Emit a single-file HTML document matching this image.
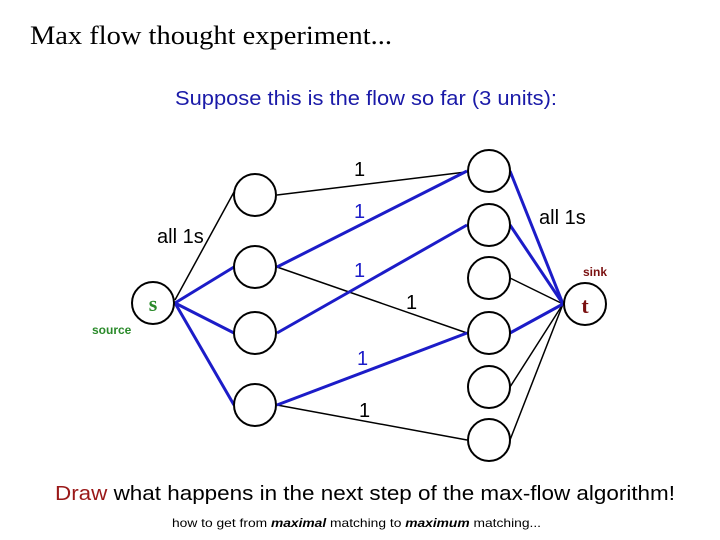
<!DOCTYPE html>
<html><head><meta charset="utf-8"><style>html,body{margin:0;padding:0;background:#fff}svg{display:block}</style></head>
<body>
<svg width="720" height="540" xmlns="http://www.w3.org/2000/svg" font-family="Liberation Sans, sans-serif">
<text x="30" y="44" font-family="Liberation Serif, serif" font-size="26" textLength="362" lengthAdjust="spacingAndGlyphs">Max flow thought experiment...</text>
<text x="175" y="105" font-size="20" fill="#1a1aa8" textLength="382" lengthAdjust="spacingAndGlyphs">Suppose this is the flow so far (3 units):</text>
<g stroke="#000" stroke-width="1.5" fill="none">
<line x1="175" y1="300" x2="234" y2="192"/>
<line x1="277" y1="195" x2="466" y2="172"/>
<line x1="277" y1="267" x2="467" y2="333"/>
<line x1="277" y1="405" x2="467" y2="440"/>
<line x1="510" y1="278" x2="563" y2="304"/>
<line x1="510" y1="387" x2="563" y2="304"/>
<line x1="510" y1="440" x2="563" y2="304"/>
</g>
<g stroke="#1c1cc8" stroke-width="3" fill="none">
<line x1="175" y1="303" x2="234" y2="267"/>
<line x1="175" y1="303" x2="234" y2="333"/>
<line x1="175" y1="303" x2="234" y2="405"/>
<line x1="277" y1="267" x2="467" y2="171"/>
<line x1="277" y1="333" x2="467" y2="225"/>
<line x1="277" y1="405" x2="467" y2="333"/>
<line x1="510" y1="171" x2="563" y2="304"/>
<line x1="510" y1="225" x2="563" y2="304"/>
<line x1="510" y1="333" x2="563" y2="304"/>
</g>
<g stroke="#000" stroke-width="2" fill="#fff">
<circle cx="153" cy="303" r="21"/>
<circle cx="255" cy="195" r="21"/>
<circle cx="255" cy="267" r="21"/>
<circle cx="255" cy="333" r="21"/>
<circle cx="255" cy="405" r="21"/>
<circle cx="489" cy="171" r="21"/>
<circle cx="489" cy="225" r="21"/>
<circle cx="489" cy="278" r="21"/>
<circle cx="489" cy="333" r="21"/>
<circle cx="489" cy="387" r="21"/>
<circle cx="489" cy="440" r="21"/>
<circle cx="585" cy="304" r="21"/>
</g>
<text x="153" y="311" font-family="Liberation Serif, serif" font-size="22" font-weight="bold" fill="#2a8a2a" text-anchor="middle">s</text>
<text x="585" y="313" font-family="Liberation Serif, serif" font-size="22" font-weight="bold" fill="#7a1010" text-anchor="middle">t</text>
<text x="92" y="334" font-size="12" font-weight="bold" fill="#2a8a2a">source</text>
<text x="583" y="276" font-size="12" font-weight="bold" fill="#7a1010">sink</text>
<g font-size="20">
<text x="157" y="243">all 1s</text>
<text x="539" y="224">all 1s</text>
<text x="354" y="176">1</text>
<text x="354" y="218" fill="#1c1cc8">1</text>
<text x="354" y="277" fill="#1c1cc8">1</text>
<text x="406" y="309">1</text>
<text x="357" y="365" fill="#1c1cc8">1</text>
<text x="359" y="417">1</text>
</g>
<text x="55" y="500" font-size="20" textLength="620" lengthAdjust="spacingAndGlyphs"><tspan fill="#9a1818">Draw</tspan> what happens in the next step of the max-flow algorithm!</text>
<text x="172" y="527" font-size="12" textLength="369" lengthAdjust="spacingAndGlyphs">how to get from <tspan font-weight="bold" font-style="italic">maximal</tspan> matching to <tspan font-weight="bold" font-style="italic">maximum</tspan> matching...</text>
</svg>
</body></html>
